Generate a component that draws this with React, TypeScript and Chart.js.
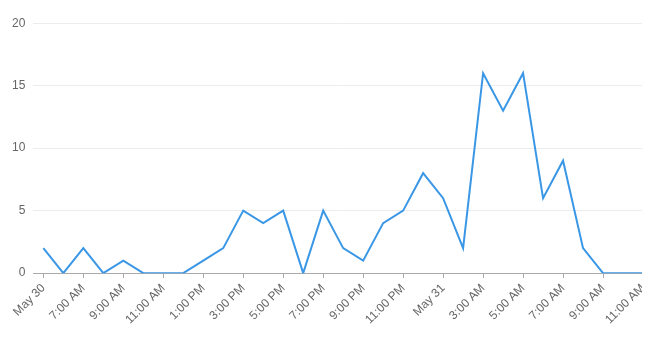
import React, { useEffect, useRef } from "react";
import { Chart, registerables } from "chart.js";

Chart.register(...registerables);

// hours since May 30, 5:00 AM
const hours = [0,1,2,3,4,5,6,7,8,9,10,11,12,13,14,15,16,17,18,19,20,21,22,23,24,25,26,27,28,29,30,31];
const values = [2,0,2,0,1,0,0,0,1,2,5,4,5,0,5,2,1,4,5,8,6,2,16,13,16,6,9,2,0,0,0,0];
const tickHours = [0,2,4,6,8,10,12,14,16,18,20,22,24,26,28,30];
const tickLabels = ["May 30","7:00 AM","9:00 AM","11:00 AM","1:00 PM","3:00 PM","5:00 PM","7:00 PM","9:00 PM","11:00 PM","May 31","3:00 AM","5:00 AM","7:00 AM","9:00 AM","11:00 AM"];
const yTicks = [0,5,10,15,20];

export default function App() {
  const ref = useRef<HTMLCanvasElement>(null);
  useEffect(() => {
    if (!ref.current) return;
    document.documentElement.style.overflow = "hidden";
    const chart = new Chart(ref.current, {
      type: "line",
      data: {
        datasets: [{
          data: hours.map((h, i) => ({ x: h, y: values[i] })),
          borderColor: "#3a97e6",
          borderWidth: 2,
          pointRadius: 0,
          tension: 0,
          fill: false,
        }],
      },
      options: {
        animation: false,
        responsive: true,
        maintainAspectRatio: false,
        layout: { padding: { top: 8, right: 0, left: 0, bottom: 8 } },
        plugins: { legend: { display: false }, tooltip: { enabled: false } },
        scales: {
          x: {
            type: "linear",
            min: -0.5,
            max: 30.35,
            afterBuildTicks: (s: any) => { s.ticks = tickHours.map((v) => ({ value: v })); },
            afterFit: (s: any) => { s.paddingRight = 0; },
            ticks: {
              autoSkip: false,
              maxRotation: 45,
              minRotation: 45,
              color: "#666",
              font: { size: 12, family: "'Liberation Sans', Arial, sans-serif" },
              callback: (v: any) => {
                const i = tickHours.indexOf(Number(v));
                return i >= 0 ? tickLabels[i] : null;
              },
            },
            grid: { drawOnChartArea: false, drawTicks: true, tickLength: 5, color: "#aaa" },
            border: { color: "#aaa" },
          },
          y: {
            min: 0,
            max: 20,
            afterBuildTicks: (s: any) => { s.ticks = yTicks.map((v) => ({ value: v })); },
            ticks: {
              color: "#666",
              padding: 8,
              font: { size: 12, family: "'Liberation Sans', Arial, sans-serif" },
            },
            grid: { color: "#ececec", drawTicks: false },
            border: { display: false },
          },
        },
      },
    });
    return () => chart.destroy();
  }, []);
  return (
    <div style={{ width: 646, height: 330, marginLeft: -4, marginBottom: -8 }}>
      <canvas ref={ref} />
    </div>
  );
}
